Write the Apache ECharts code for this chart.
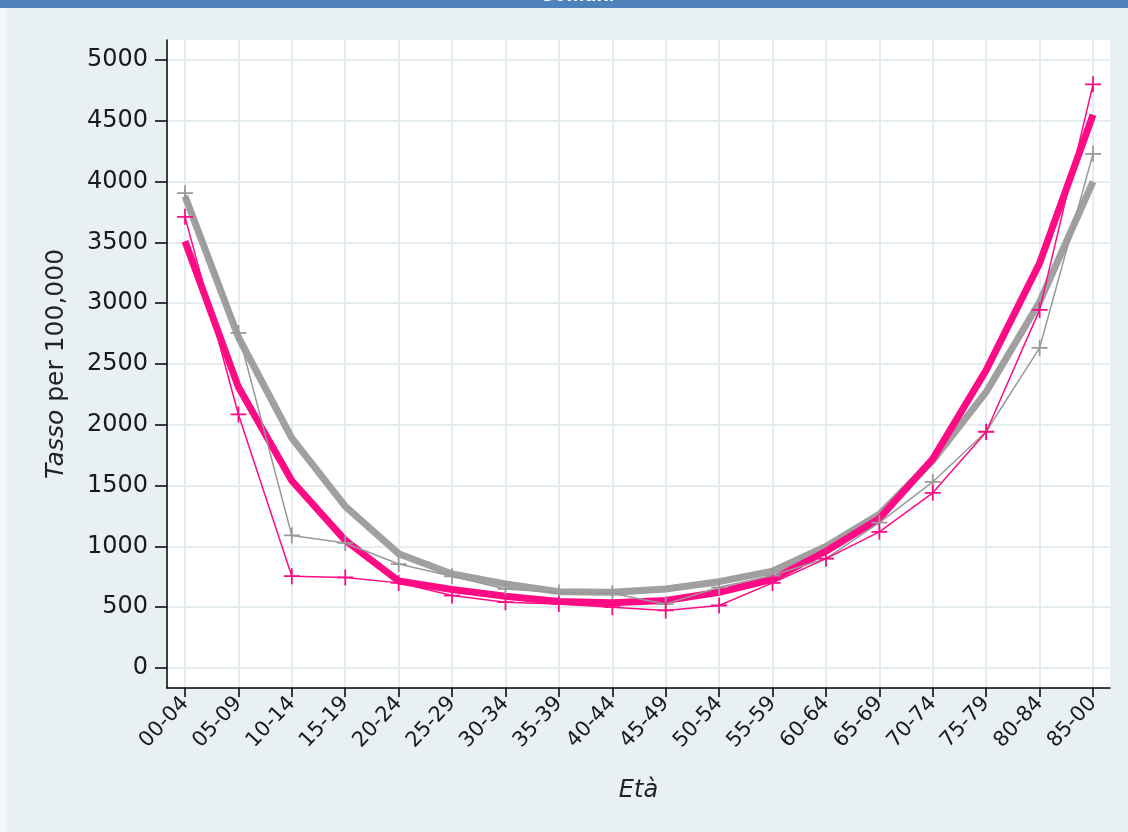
<!DOCTYPE html>
<html><head><meta charset="utf-8">
<script src="https://cdn.jsdelivr.net/npm/echarts@6/dist/echarts.min.js"></script>
<style>html,body{margin:0;padding:0;background:#E8F0F3}#c{width:1128px;height:832px}</style>
</head><body><div id="c"></div>
<script>
const categories = ['00-04','05-09','10-14','15-19','20-24','25-29','30-34','35-39','40-44','45-49','50-54','55-59','60-64','65-69','70-74','75-79','80-84','85-00'];
const yTicks = [0,500,1000,1500,2000,2500,3000,3500,4000,4500,5000];
const pinkFit = [3510,2310,1540,1050,715,645,590,546,536,555,623,730,960,1230,1720,2450,3330,4550];
const greyFit = [3880,2720,1890,1330,940,773,691,628,623,650,710,797,1000,1265,1706,2270,3010,4000];
const pinkObs = [3710,2085,755,745,700,596,541,527,500,473,514,700,900,1120,1441,1941,2945,4800];
const greyObs = [3905,2755,1090,1028,855,754,650,620,615,525,664,760,900,1195,1530,1945,2632,4229];

const PINK = '#FF0A85';
const GREY = '#A0A0A0';
const plus = 'path://M0,4.45H4.45V0H5.55V4.45H10V5.55H5.55V10H4.45V5.55H0Z';
const idx = categories.map((c, i) => i);
const pairs = arr => arr.map((v, i) => [i, v]);

const chart = echarts.init(document.getElementById('c'), null, {renderer: 'canvas'});
chart.setOption({
  backgroundColor: '#E8F0F3',
  animation: false,
  graphic: [
    {type: 'rect', shape: {x: 0, y: 8, width: 7, height: 824}, style: {fill: '#F3F7F8'}, z: 0},
    {type: 'rect', shape: {x: 0, y: 0, width: 1128, height: 8}, style: {fill: '#4F81BD'}, z: 1},
    {type: 'text', x: 577, y: -15, style: {text: 'Comuni', fill: '#ffffff', font: 'bold 20px "Liberation Sans", Arial, sans-serif', textAlign: 'center', textVerticalAlign: 'top'}, z: 2}
  ],
  grid: {left: 167, top: 40, right: 18, bottom: 144, show: true, backgroundColor: '#ffffff', borderWidth: 0},
  xAxis: {
    type: 'value', min: -0.337, max: 17.318,
    name: 'Età', nameLocation: 'middle', nameGap: 91,
    nameTextStyle: {fontFamily: 'DejaVu Sans', fontSize: 24, fontStyle: 'italic', color: '#222'},
    axisLine: {show: true, onZero: false, lineStyle: {color: '#000', width: 1.5}},
    axisTick: {show: true, length: 9, customValues: idx, lineStyle: {color: '#000', width: 1.5}},
    axisLabel: {customValues: idx, rotate: 47, margin: 12, fontFamily: 'DejaVu Sans', fontSize: 21, color: '#1a1a1a',
      formatter: v => categories[Math.round(v)] || ''},
    splitLine: {show: true, lineStyle: {color: '#E4EEF1', width: 2}}
  },
  yAxis: {
    type: 'value', min: -164.5, max: 5164.5,
    name: '{it|Tasso} per 100,000', nameLocation: 'middle', nameGap: 98,
    nameTextStyle: {fontFamily: 'DejaVu Sans', fontSize: 25, color: '#222',
      rich: {it: {fontFamily: 'DejaVu Sans', fontSize: 25, fontStyle: 'italic', color: '#222'}}},
    axisLine: {show: true, onZero: false, lineStyle: {color: '#000', width: 1.5}},
    axisTick: {show: true, length: 12, customValues: yTicks, lineStyle: {color: '#000', width: 1.5}},
    axisLabel: {customValues: yTicks, margin: 19, fontFamily: 'DejaVu Sans', fontSize: 24, color: '#1a1a1a',
      formatter: v => String(Math.round(v))},
    splitLine: {show: true, lineStyle: {color: '#E4EEF1', width: 2}}
  },
  series: [
    {type: 'line', data: pairs(greyFit), symbol: 'none', lineStyle: {color: GREY, width: 7}, z: 2},
    {type: 'line', data: pairs(pinkFit), symbol: 'none', lineStyle: {color: PINK, width: 7}, z: 3},
    {type: 'line', data: pairs(greyObs), symbol: plus, symbolSize: 16, itemStyle: {color: '#999999'}, lineStyle: {color: '#999999', width: 1.5}, z: 4},
    {type: 'line', data: pairs(pinkObs), symbol: plus, symbolSize: 16, itemStyle: {color: PINK}, lineStyle: {color: PINK, width: 1.5}, z: 5}
  ]
});
</script>
</body></html>
